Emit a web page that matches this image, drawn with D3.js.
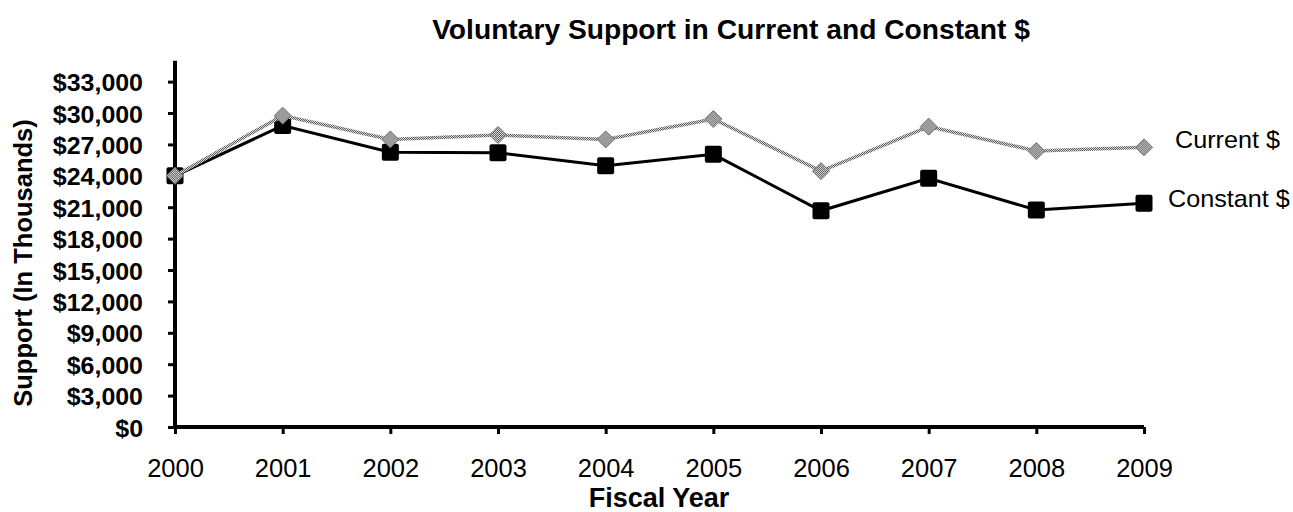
<!DOCTYPE html>
<html>
<head>
<meta charset="utf-8">
<script src="https://cdn.jsdelivr.net/npm/d3@7"></script>
<style>
  html, body { margin: 0; padding: 0; background: #fff; }
  svg { display: block; font-family: "Liberation Sans", Arial, sans-serif; }
</style>
</head>
<body>
<svg id="chart" width="1293" height="512"></svg>
<script>
// ---- data ----
const years = ["2000","2001","2002","2003","2004","2005","2006","2007","2008","2009"];
const currentValues  = [24000, 29750, 27480, 27900, 27480, 29430, 24450, 28700, 26370, 26720];
const constantValues = [24000, 28800, 26250, 26200, 24960, 26050, 20660, 23760, 20730, 21370];
const yTickValues = [0, 3000, 6000, 9000, 12000, 15000, 18000, 21000, 24000, 27000, 30000, 33000];
const yMax = 35000;
const seriesNames = ["Current $", "Constant $"];
const chartTitle = "Voluntary Support in Current and Constant $";
const xTitle = "Fiscal Year";
const yTitle = "Support (In Thousands)";

(function () {
// ---- layout ----
const svg = d3.select("#chart");
const plotLeft = 175, plotRight = 1144, plotTop = 60.7, plotBottom = 427;

const x = d3.scalePoint().domain(years).range([plotLeft, plotRight]);
const y = d3.scaleLinear().domain([0, yMax]).range([plotBottom, plotTop]);

// pattern for the grey series
const defs = svg.append("defs");
const pat = defs.append("pattern").attr("id", "checker")
  .attr("width", 2).attr("height", 2).attr("patternUnits", "userSpaceOnUse");
pat.append("rect").attr("width", 2).attr("height", 2).attr("fill", "#dcdcdc");
pat.append("rect").attr("x", 0).attr("y", 0).attr("width", 1).attr("height", 1).attr("fill", "#5a5a5a");
pat.append("rect").attr("x", 1).attr("y", 1).attr("width", 1).attr("height", 1).attr("fill", "#5a5a5a");

// ---- title ----
svg.append("text")
  .attr("transform", `translate(731,39)`)
  .attr("text-anchor", "middle")
  .attr("font-size", 28.2).attr("font-weight", "bold")
  .text(chartTitle);

// ---- axes ----
const yAxis = d3.axisLeft(y).tickValues(yTickValues).tickSize(7).tickPadding(0)
  .tickFormat(d => "$" + d3.format(",")(d));
const gy = svg.append("g").attr("transform", `translate(${plotLeft},0)`).call(yAxis);
gy.select(".domain").remove();
gy.selectAll(".tick line").attr("stroke", "#000").attr("stroke-width", 3);
gy.selectAll(".tick text")
  .attr("x", null).attr("dy", null)
  .attr("transform", `translate(-32,9) scale(1.04,1)`)
  .attr("font-size", 24).attr("font-weight", "bold")
  .attr("font-family", "Liberation Sans, Arial, sans-serif")
  .attr("fill", "#000");

const xAxis = d3.axisBottom(x).tickSize(7).tickPadding(0);
const gx = svg.append("g").attr("transform", `translate(0,${plotBottom})`).call(xAxis);
gx.select(".domain").remove();
gx.selectAll(".tick line").attr("stroke", "#000").attr("stroke-width", 3);
gx.selectAll(".tick text")
  .attr("y", null).attr("dy", null)
  .attr("transform", `translate(0,50)`)
  .attr("font-size", 25.5)
  .attr("font-family", "Liberation Sans, Arial, sans-serif")
  .attr("fill", "#000");

// axis lines (thick)
svg.append("line").attr("x1", plotLeft).attr("x2", plotLeft).attr("y1", y(yMax)).attr("y2", plotBottom + 2)
  .attr("stroke", "#000").attr("stroke-width", 4);
svg.append("line").attr("x1", plotLeft - 2).attr("x2", plotRight).attr("y1", plotBottom).attr("y2", plotBottom)
  .attr("stroke", "#000").attr("stroke-width", 4);

// axis titles
svg.append("text")
  .attr("transform", `translate(659,507)`)
  .attr("text-anchor", "middle")
  .attr("font-size", 27).attr("font-weight", "bold")
  .text(xTitle);
svg.append("text")
  .attr("transform", `translate(32,263) rotate(-90)`)
  .attr("text-anchor", "middle")
  .attr("font-size", 25.5).attr("font-weight", "bold")
  .text(yTitle);

// ---- series ----
const line = d3.line().x((d, i) => x(years[i])).y(d => y(d));

// Constant $ (black, squares)
svg.append("path").datum(constantValues).attr("d", line)
  .attr("fill", "none").attr("stroke", "#000").attr("stroke-width", 3);
svg.append("g").selectAll("rect").data(constantValues).join("rect")
  .attr("x", (d, i) => x(years[i]) - 8.5).attr("y", d => y(d) - 8.5)
  .attr("width", 17).attr("height", 17).attr("rx", 2)
  .attr("fill", "#000");

// Current $ (grey, diamonds)
svg.append("path").datum(currentValues).attr("d", line)
  .attr("fill", "none").attr("stroke", "url(#checker)").attr("stroke-width", 3.5);
const diamond = "M0,-8.5L8.5,0L0,8.5L-8.5,0Z";
svg.append("g").selectAll("path").data(currentValues).join("path")
  .attr("transform", (d, i) => `translate(${x(years[i])},${y(d)})`)
  .attr("d", diamond)
  .attr("fill", "url(#checker)").attr("stroke", "#707070").attr("stroke-width", 1);

// ---- series labels ----
svg.append("text")
  .attr("transform", `translate(1175,148) scale(1.05,1)`)
  .attr("font-size", 24)
  .text(seriesNames[0]);
svg.append("text")
  .attr("transform", `translate(1168,207) scale(1.05,1)`)
  .attr("font-size", 24)
  .text(seriesNames[1]);
})();
</script>
</body>
</html>
